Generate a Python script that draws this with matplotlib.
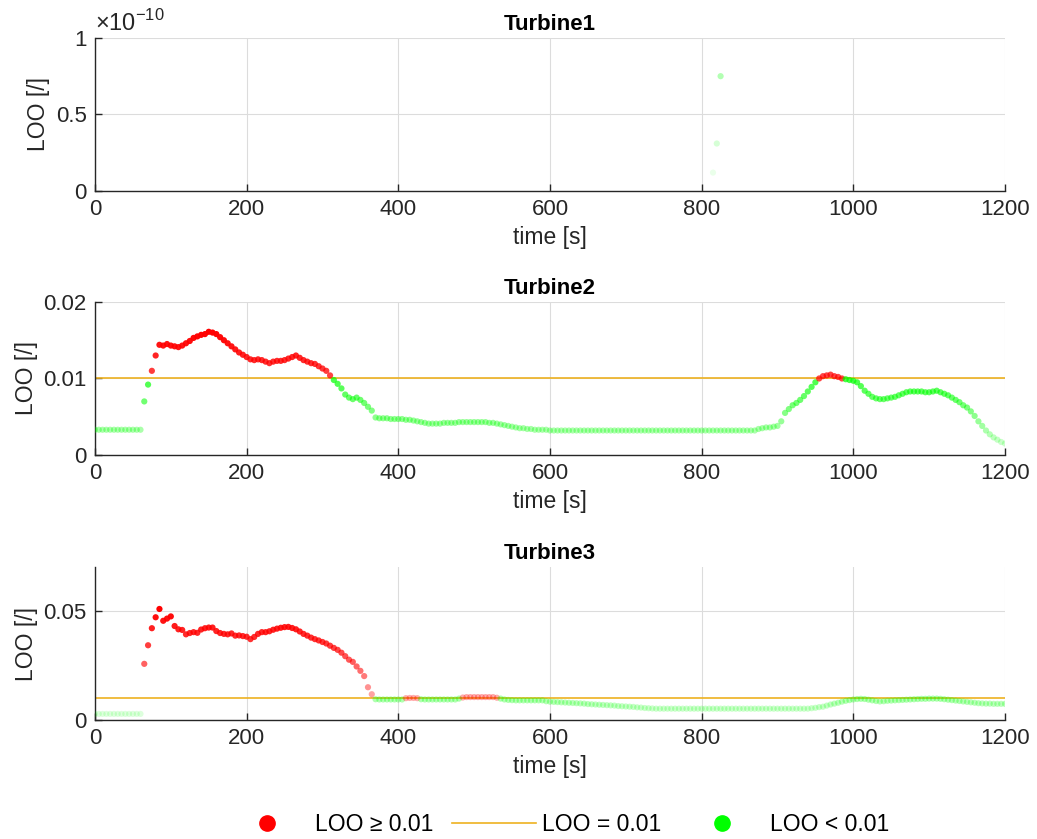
import numpy as np
import matplotlib
matplotlib.use("Agg")
import matplotlib.pyplot as plt
from matplotlib.ticker import FuncFormatter
from matplotlib.lines import Line2D

plt.rcParams['font.family'] = ['Liberation Sans', 'DejaVu Sans']
plt.rcParams['mathtext.fontset'] = 'custom'
plt.rcParams['mathtext.rm'] = 'Liberation Sans'

threshold = 0.01
dt = 5  # sample period [s]

# Turbine1: only a few tiny values around 820 s
t1_time = [815, 820, 825]
t1_loo = [0.12e-10, 0.31e-10, 0.75e-10]

# Turbine2 / Turbine3: LOO sampled every 5 s from 0 to 1200 s
t2_loo = (
    [0.0033] * 10
    + [0.0033, 0.0033, 0.0033, 0.0070, 0.0092, 0.0110, 0.0130, 0.0144, 0.0143, 0.0145]
    + [0.0143, 0.0142, 0.0141, 0.0143, 0.0146, 0.0149, 0.0153, 0.0155, 0.0157, 0.0158]
    + [0.0161, 0.0160, 0.0158, 0.0154, 0.0150, 0.0146, 0.0142, 0.0138, 0.0134, 0.0131]
    + [0.0128, 0.0125, 0.0124, 0.0125, 0.0124, 0.0122, 0.0120, 0.0122, 0.0123, 0.0123]
    + [0.0124, 0.0126, 0.0128, 0.0130, 0.0127, 0.0124, 0.0122, 0.0120, 0.0119, 0.0116]
    + [0.0113, 0.0110, 0.0104, 0.0098, 0.0093, 0.0087, 0.0079, 0.0075, 0.0073, 0.0075]
    + [0.0072, 0.0068, 0.0063, 0.0058, 0.0049, 0.0048, 0.0048, 0.0048, 0.0047, 0.0047]
    + [0.0047, 0.0047, 0.0046, 0.0046, 0.0045, 0.0044, 0.0043, 0.0042, 0.0041, 0.0041]
    + [0.0041, 0.0041, 0.0042, 0.0042, 0.0042, 0.0042, 0.0043, 0.0043, 0.0043, 0.0043]
    + [0.0043, 0.0043, 0.0043, 0.0043, 0.0042, 0.0042, 0.0041, 0.0040, 0.0039, 0.0038]
    + [0.0037, 0.0036, 0.0035, 0.0035, 0.0034, 0.0034, 0.0033, 0.0033, 0.0033, 0.0033]
    + [0.0032] * 50
    + [0.0032, 0.0032, 0.0032, 0.0032, 0.0032, 0.0034, 0.0035, 0.0036, 0.0036, 0.0037]
    + [0.0038, 0.0044, 0.0055, 0.0060, 0.0065, 0.0068, 0.0072, 0.0077, 0.0083, 0.0089]
    + [0.0095, 0.0100, 0.0103, 0.0104, 0.0105, 0.0103, 0.0102, 0.0100, 0.0099, 0.0098]
    + [0.0097, 0.0095, 0.0090, 0.0084, 0.0080, 0.0076, 0.0074, 0.0073, 0.0073, 0.0074]
    + [0.0075, 0.0076, 0.0078, 0.0080, 0.0082, 0.0083, 0.0083, 0.0083, 0.0083, 0.0082]
    + [0.0082, 0.0083, 0.0084, 0.0082, 0.0080, 0.0078, 0.0075, 0.0072, 0.0069, 0.0065]
    + [0.0062, 0.0057, 0.0051, 0.0044, 0.0038, 0.0032, 0.0027, 0.0023, 0.0020, 0.0017]
    + [0.0015]
)

t3_loo = (
    [0.0028] * 10
    + [0.0028, 0.0028, 0.0028, 0.0257, 0.0342, 0.0420, 0.0470, 0.0508, 0.0454, 0.0464]
    + [0.0474, 0.0430, 0.0415, 0.0412, 0.0392, 0.0398, 0.0402, 0.0399, 0.0414, 0.0420]
    + [0.0423, 0.0423, 0.0407, 0.0398, 0.0394, 0.0392, 0.0396, 0.0386, 0.0387, 0.0384]
    + [0.0381, 0.0370, 0.0380, 0.0394, 0.0402, 0.0402, 0.0406, 0.0413, 0.0418, 0.0422]
    + [0.0425, 0.0426, 0.0421, 0.0415, 0.0405, 0.0394, 0.0386, 0.0377, 0.0370, 0.0364]
    + [0.0357, 0.0350, 0.0340, 0.0330, 0.0321, 0.0308, 0.0292, 0.0276, 0.0266, 0.0245]
    + [0.0225, 0.0201, 0.0150, 0.0118, 0.0095, 0.0094, 0.0094, 0.0094, 0.0094, 0.0094]
    + [0.0094, 0.0094, 0.0100, 0.0101, 0.0101, 0.0100, 0.0095, 0.0094, 0.0094, 0.0094]
    + [0.0094, 0.0094, 0.0094, 0.0094, 0.0094, 0.0094, 0.0098, 0.0103, 0.0105, 0.0105]
    + [0.0105, 0.0105, 0.0105, 0.0105, 0.0105, 0.0105, 0.0102, 0.0098, 0.0094, 0.0092]
    + [0.0091, 0.0090, 0.0090, 0.0090, 0.0090, 0.0090, 0.0090, 0.0090, 0.0090, 0.0086]
    + [0.0084, 0.0083, 0.0082, 0.0081, 0.0080, 0.0079, 0.0078, 0.0077, 0.0076, 0.0075]
    + [0.0073, 0.0072, 0.0071, 0.0070, 0.0069, 0.0068, 0.0067, 0.0066, 0.0064, 0.0063]
    + [0.0062, 0.0061, 0.0060, 0.0058, 0.0057, 0.0055, 0.0054, 0.0053, 0.0052, 0.0052]
    + [0.0052] * 39
    + [0.0054]
    + [0.0056, 0.0059, 0.0061, 0.0066, 0.0071, 0.0075, 0.0079, 0.0084, 0.0088, 0.0091]
    + [0.0094, 0.0096, 0.0097, 0.0096, 0.0093, 0.0090, 0.0087, 0.0085, 0.0086, 0.0088]
    + [0.0089, 0.0090, 0.0091, 0.0092, 0.0093, 0.0094, 0.0095, 0.0096, 0.0097, 0.0097]
    + [0.0098, 0.0098, 0.0098, 0.0097, 0.0095, 0.0093, 0.0091, 0.0089, 0.0087, 0.0085]
    + [0.0083, 0.0081, 0.0079, 0.0077, 0.0076, 0.0075, 0.0075, 0.0074, 0.0074, 0.0074]
    + [0.0074]
)

titles = ['Turbine1', 'Turbine2', 'Turbine3']
times = [np.array(t1_time),
         np.arange(len(t2_loo)) * dt,
         np.arange(len(t3_loo)) * dt]
values = [np.array(t1_loo), np.array(t2_loo), np.array(t3_loo)]
ylims = [1e-10, 0.02, 0.07]
yticks = [[0, 0.5e-10, 1e-10], [0, 0.01, 0.02], [0, 0.05]]
yscale = [1e-10, 1, 1]
# reference level used to fade the points
fade_ref = [4.2e-10, max(t2_loo), max(t3_loo)]

axis_col = '#262626'
orange = '#EDB120'

fig = plt.figure(figsize=(10.37, 8.39), dpi=100)
bottoms = [0.7724, 0.4577, 0.1418]

for i in range(3):
    ax = fig.add_axes([0.0916, bottoms[i], 0.8775, 0.1824])
    t = times[i]
    v = values[i]

    alpha = np.clip((v / fade_ref[i]) ** 0.7, 0.06, 1.0)
    rgba = np.zeros((len(v), 4))
    above = v >= threshold
    rgba[above, 0] = 1.0
    rgba[~above, 1] = 1.0
    rgba[:, 3] = alpha

    ax.axhline(threshold, color=orange, lw=1.2, zorder=2)
    ax.scatter(t, v, s=20, c=rgba, edgecolors='none', zorder=3)

    ax.set_xlim(0, 1200)
    ax.set_ylim(0, ylims[i])
    ax.set_xticks(range(0, 1201, 200))
    ax.set_yticks(yticks[i])
    sc = yscale[i]
    ax.yaxis.set_major_formatter(FuncFormatter(lambda y, p, sc=sc: '%g' % round(y / sc, 6)))
    ax.grid(True, color='#dcdcdc', lw=0.8)
    ax.set_axisbelow(True)
    for s in ['top', 'right']:
        ax.spines[s].set_visible(False)
    for s in ['left', 'bottom']:
        ax.spines[s].set_color(axis_col)
        ax.spines[s].set_linewidth(1.0)
    ax.tick_params(direction='in', length=5, width=1.0, colors=axis_col,
                   labelsize=16, pad=6)

    if i == 0:
        ax.text(0.0, 1.01, '×10$^{\\mathregular{-10}}$', transform=ax.transAxes,
                fontsize=17, color=axis_col, ha='left', va='bottom')

    ax.set_title(titles[i], fontsize=16, fontweight='bold', pad=6)
    ax.set_xlabel('time [s]', fontsize=16.5, color=axis_col, labelpad=4)
    ax.set_ylabel('LOO [/]', fontsize=16.5, color=axis_col, labelpad=4)

handles = [
    Line2D([], [], ls='none', marker='o', ms=11, color='red', mec='red'),
    Line2D([], [], color=orange, lw=1.2),
    Line2D([], [], ls='none', marker='o', ms=11, color='lime', mec='lime'),
]
labels = ['LOO ≥ 0.01', 'LOO = 0.01', 'LOO < 0.01']
fig.legend(handles, labels, loc='center', bbox_to_anchor=(0.537, 0.0167),
           ncol=3, frameon=False, fontsize=16.5, handlelength=3.7,
           columnspacing=0.8, handletextpad=0.25)

fig.savefig('out.png', dpi=100)
